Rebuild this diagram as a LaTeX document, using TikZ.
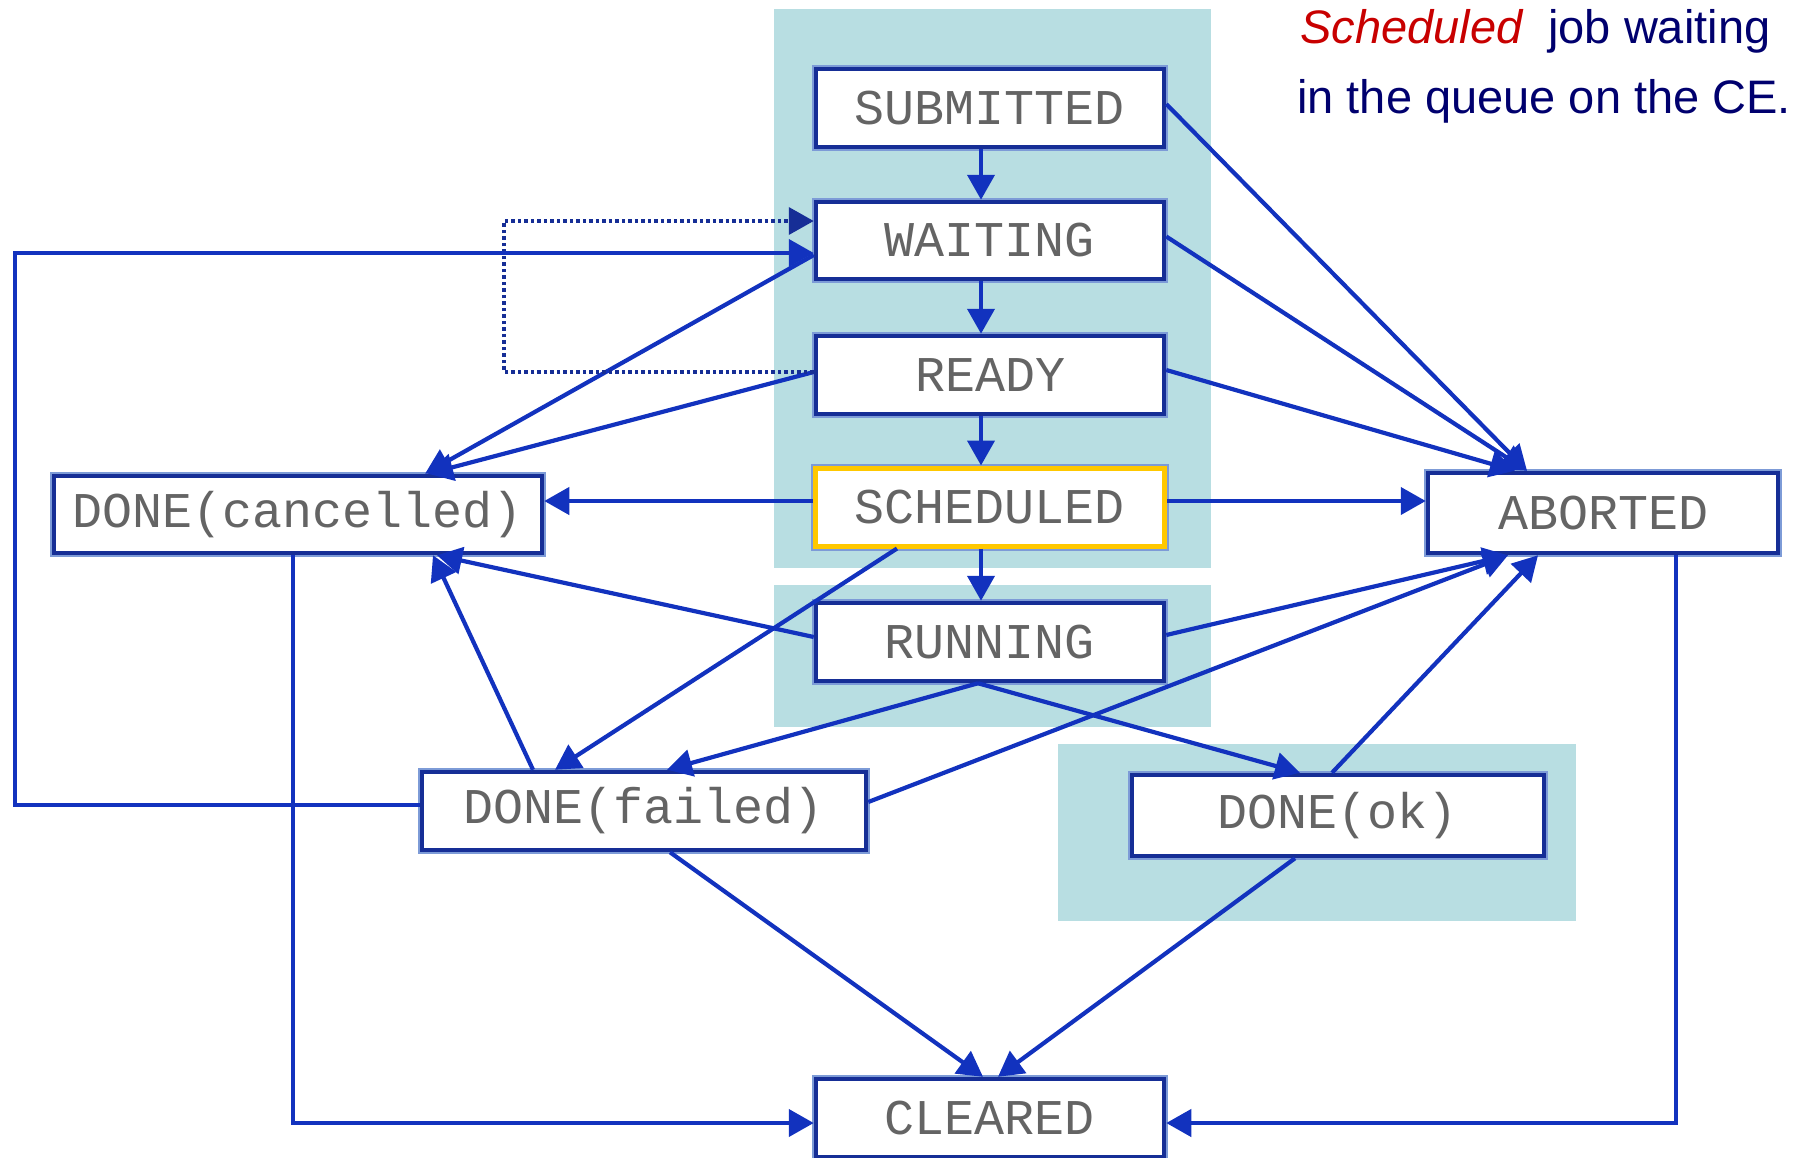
\documentclass[tikz,border=0pt]{standalone}
\usepackage{fontspec}
\setmainfont{Liberation Sans}
\newfontfamily\statefont{Liberation Mono}
\usetikzlibrary{arrows.meta,calc}

\definecolor{panel}{RGB}{184,222,226}
\definecolor{edge}{RGB}{18,50,190}
\definecolor{frame}{RGB}{22,46,150}
\definecolor{frameglow}{RGB}{125,155,215}
\definecolor{labelgray}{RGB}{100,100,100}
\definecolor{accent}{RGB}{200,0,0}
\definecolor{navytext}{RGB}{0,0,110}
\definecolor{hilite}{RGB}{255,200,0}

\begin{document}
\begin{tikzpicture}[x=1pt,y=-1pt,
  state/.style={rectangle, draw=frame, line width=4.5pt, fill=white, inner sep=0pt,
    preaction={draw=frameglow, line width=7.5pt},
    font=\statefont\fontsize{50}{50}\selectfont, text=labelgray},
  current/.style={state, draw=hilite, line width=5pt, preaction={draw=frameglow, line width=9pt}},
  conn/.style={draw=edge, line width=4.2pt, line join=miter,
    -{Triangle[length=25pt,width=27pt]}},
  retry/.style={draw=frame, line width=3.8pt, dash pattern=on 3.5pt off 3pt,
    -{Triangle[length=25pt,width=27pt]}},
  note/.style={anchor=base west, inner sep=0pt, font=\fontsize{47}{56}\selectfont}
]
\useasboundingbox (0,0) rectangle (1803,1157);

% shaded groups
\fill[panel] (774,9) rectangle (1211,568);
\fill[panel] (774,585) rectangle (1211,727);
\fill[panel] (1058,744) rectangle (1576,921);

% job states
\node[state, minimum width=348pt, minimum height=78pt] (sub)   at (990,108)   {SUBMITTED};
\node[state, minimum width=348pt, minimum height=77pt] (wait)  at (990,240.5) {WAITING};
\node[state, minimum width=348pt, minimum height=78pt] (ready) at (990,375)   {READY};
\node[current, minimum width=349pt, minimum height=78pt] (sched) at (990,507) {SCHEDULED};
\node[state, minimum width=348pt, minimum height=78pt] (run)   at (990,642)   {RUNNING};
\node[state, minimum width=488pt, minimum height=77pt] (canc)  at (298,514.5) {DONE(cancelled)};
\node[state, minimum width=350pt, minimum height=80pt] (abort) at (1603,513)  {ABORTED};
\node[state, minimum width=444pt, minimum height=78pt] (failed) at (644,811)  {DONE(failed)};
\node[state, minimum width=412pt, minimum height=81pt] (ok)    at (1338,815.5) {DONE(ok)};
\node[state, minimum width=348pt, minimum height=78pt] (clear) at (990,1118)  {CLEARED};

% explanatory note
\node[note] (note1) at (1300,43) {\textcolor{accent}{\itshape Scheduled}\hspace{26pt}\textcolor{navytext}{job waiting}};
\node[note] (note2) at (1297,113) {\textcolor{navytext}{in the queue on the CE.}};

% main chain
\draw[conn] ([xshift=-9pt]sub.south) -- ([xshift=-9pt]wait.north);
\draw[conn] ([xshift=-9pt]wait.south) -- ([xshift=-9pt]ready.north);
\draw[conn] ([xshift=-9pt]ready.south) -- ([xshift=-9pt]sched.north);
\draw[conn] ([xshift=-9pt]sched.south) -- ([xshift=-9pt]run.north);

% transitions to ABORTED
\draw[conn] ($(sub.east)+(0,-4)$) -- ($(abort.north)+(-76,0)$);
\draw[conn] ($(wait.east)+(0,-4)$) -- ($(abort.north)+(-76,0)$);
\draw[conn] ($(ready.east)+(0,-5)$) -- ($(abort.north)+(-88,0)$);
\draw[conn] ($(sched.east)+(0,-6)$) -- ($(abort.west)+(0,-12)$);
\draw[conn] ($(run.east)+(0,-7)$) -- ($(abort.south)+(-95,0)$);
\draw[conn] ($(failed.east)+(0,-9)$) -- ($(abort.south)+(-95,0)$);
\draw[conn] ($(ok.north)+(-6,0)$) -- ($(abort.south)+(-65,0)$);

% transitions to DONE(cancelled)
\draw[conn] ($(sched.west)+(0,-6)$) -- ($(canc.east)+(0,-13.5)$);
\draw[conn] ($(wait.west)+(0,14.5)$) -- ($(canc.north)+(127,0)$);
\draw[conn] ($(ready.west)+(0,-3)$) -- ($(canc.north)+(130,0)$);
\draw[conn] ($(run.west)+(0,-5)$) -- ($(canc.south)+(139,0)$);
\draw[conn] ($(failed.north)+(-111,0)$) -- ($(canc.south)+(135,0)$);

% transitions to the DONE states
\draw[conn] ($(sched.south)+(-93,0)$) -- ($(failed.north)+(-89,0)$);
\draw[conn] ($(run.south)+(-12,0)$) -- ($(failed.north)+(23,0)$);
\draw[conn] ($(run.south)+(-12,0)$) -- ($(ok.north)+(-38,0)$);

% READY back to WAITING
\coordinate (retrycorner) at (504,372);
\draw[retry] ($(ready.west)+(0,-3)$) -- (retrycorner) |- ($(wait.west)+(0,-19.5)$);

% resubmission of failed jobs
\coordinate (loopcorner) at (15,805);
\draw[conn] ($(failed.west)+(0,-6)$) -- (loopcorner) |- ($(wait.west)+(0,12.5)$);

% transitions to CLEARED
\draw[conn] ($(failed.south)+(26,0)$) -- ($(clear.north)+(-7,0)$);
\draw[conn] ($(ok.south)+(-43,0)$) -- ($(clear.north)+(8,0)$);
\draw[conn] ($(canc.south)+(-5,0)$) |- ($(clear.west)+(0,5)$);
\draw[conn] ($(abort.south)+(73,0)$) |- ($(clear.east)+(0,5)$);
\end{tikzpicture}
\end{document}
